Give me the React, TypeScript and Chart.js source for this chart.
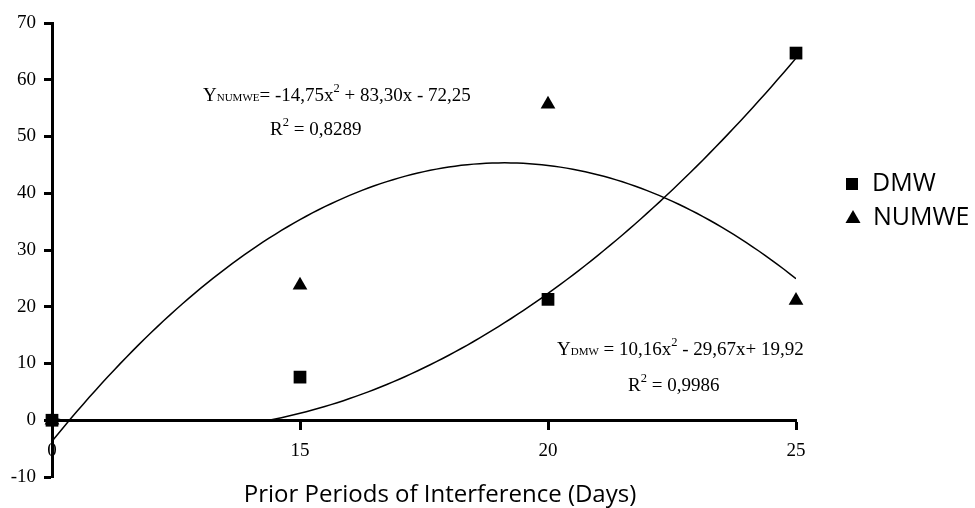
import React, { useEffect, useRef } from 'react';
import { Chart, registerables } from 'chart.js';

Chart.register(...registerables);

// ---- data ----
const xCategories = ['0', '15', '20', '25'];
const xIndex = [1, 2, 3, 4];
const dmwValues = [0, 7.6, 21.3, 64.7];
const numweValues = [0, 23.8, 55.7, 21.1];
// quadratic trendline coefficients as printed on the chart (a, b, c)
const dmwCoef = [10.16, -29.67, 19.92];
const numweCoef = [-14.75, 83.3, -72.25];
const yTicks = [-10, 0, 10, 20, 30, 40, 50, 60, 70];
const legendLabels = ['DMW', 'NUMWE'];
const xTitle = 'Prior Periods of Interference (Days)';
const numweEq = ['Y', 'NUMWE', '= -14,75x', '2', ' + 83,30x - 72,25'];
const numweR2 = ['R', '2', ' = 0,8289'];
const dmwEq = ['Y', 'DMW', ' = 10,16x', '2', ' - 29,67x+ 19,92'];
const dmwR2 = ['R', '2', ' = 0,9986'];

function trend(coef: number[], steps = 120) {
  const pts: { x: number; y: number }[] = [];
  const x0 = xIndex[0];
  const x1 = xIndex[xIndex.length - 1];
  for (let i = 0; i <= steps; i++) {
    const x = x0 + ((x1 - x0) * i) / steps;
    pts.push({ x, y: coef[0] * x * x + coef[1] * x + coef[2] });
  }
  return pts;
}

const SERIF = '"Liberation Serif", "Times New Roman", serif';
const SANS = '"Open Sans", "Noto Sans", sans-serif';

type Part = { t: string; size: number; dy?: number };

function drawParts(ctx: CanvasRenderingContext2D, x: number, y: number, parts: Part[]) {
  let cx = x;
  ctx.textBaseline = 'alphabetic';
  ctx.textAlign = 'left';
  for (const p of parts) {
    ctx.font = `${p.size}px ${SERIF}`;
    ctx.fillText(p.t, cx, y + (p.dy || 0));
    cx += ctx.measureText(p.t).width;
  }
}

const eqParts = (a: string[]): Part[] => [
  { t: a[0], size: 19 },
  { t: a[1], size: 11 },
  { t: a[2], size: 19 },
  { t: a[3], size: 12.5, dy: -9 },
  { t: a[4], size: 19 },
];
const r2Parts = (a: string[]): Part[] => [
  { t: a[0], size: 19 },
  { t: a[1], size: 12.5, dy: -9 },
  { t: a[2], size: 19 },
];

const overlayPlugin = {
  id: 'overlay',
  beforeDatasetDraw(chart: any, args: any) {
    // the DMW trendline is hidden below the x axis in the original
    if (args.index === 2) {
      const ctx = chart.ctx;
      const y0 = chart.scales.y.getPixelForValue(0);
      ctx.save();
      ctx.beginPath();
      ctx.rect(0, 0, chart.width, y0 + 1);
      ctx.clip();
    }
  },
  afterDatasetDraw(chart: any, args: any) {
    if (args.index === 2) chart.ctx.restore();
  },
  afterDraw(chart: any) {
    const ctx: CanvasRenderingContext2D = chart.ctx;
    ctx.save();
    ctx.fillStyle = '#000';
    // equations
    drawParts(ctx, 203, 101, eqParts(numweEq));
    drawParts(ctx, 270, 135, r2Parts(numweR2));
    drawParts(ctx, 557, 355, eqParts(dmwEq));
    drawParts(ctx, 628, 391, r2Parts(dmwR2));

    // legend
    ctx.fillRect(852 - 6, 184 - 6, 12, 12);
    ctx.beginPath();
    ctx.moveTo(853, 218 - 8);
    ctx.lineTo(853 + 7.5, 218 + 5);
    ctx.lineTo(853 - 7.5, 218 + 5);
    ctx.closePath();
    ctx.fill();
    ctx.font = `25px ${SANS}`;
    ctx.textBaseline = 'middle';
    ctx.textAlign = 'left';
    ctx.fillText(legendLabels[0], 872, 184);
    ctx.fillText(legendLabels[1], 873, 218);

    // x axis title
    ctx.font = `24px ${SANS}`;
    ctx.textAlign = 'center';
    ctx.textBaseline = 'alphabetic';
    ctx.fillText(xTitle, 440, 502);
    ctx.restore();
  },
};

export default function App() {
  const ref = useRef<HTMLCanvasElement>(null);
  useEffect(() => {
    if (!ref.current) return;
    const chart = new Chart(ref.current, {
      type: 'scatter',
      data: {
        datasets: [
          {
            label: legendLabels[0],
            data: xIndex.map((x, i) => ({ x, y: dmwValues[i] })),
            pointStyle: 'rect',
            pointRadius: 9,
            backgroundColor: '#000',
            borderColor: '#000',
            borderWidth: 0,
            showLine: false,
            clip: false,
          },
          {
            label: legendLabels[1],
            data: xIndex.map((x, i) => ({ x, y: numweValues[i] })),
            pointStyle: 'triangle',
            pointRadius: 8.5,
            backgroundColor: '#000',
            borderColor: '#000',
            borderWidth: 0,
            showLine: false,
            clip: false,
          },
          {
            label: 'DMW trend',
            data: trend(dmwCoef),
            showLine: true,
            pointRadius: 0,
            borderColor: '#000',
            borderWidth: 1.5,
            fill: false,
          },
          {
            label: 'NUMWE trend',
            data: trend(numweCoef),
            showLine: true,
            pointRadius: 0,
            borderColor: '#000',
            borderWidth: 1.5,
            fill: false,
          },
        ],
      },
      options: {
        animation: false,
        responsive: true,
        maintainAspectRatio: false,
        events: [],
        layout: { padding: { top: 23, right: 179, bottom: 31, left: 0 } },
        plugins: { legend: { display: false }, tooltip: { enabled: false } },
        scales: {
          x: {
            type: 'linear',
            position: { y: 0 } as any,
            min: xIndex[0],
            max: xIndex[xIndex.length - 1],
            afterBuildTicks: (s: any) => {
              s.ticks = xIndex.map((v) => ({ value: v }));
            },
            ticks: {
              callback: (v: any) => xCategories[xIndex.indexOf(Number(v))] ?? '',
              font: { family: SERIF, size: 19 },
              color: '#000',
              padding: 11,
              maxRotation: 0,
              autoSkip: false,
            },
            grid: { drawOnChartArea: false, drawTicks: true, tickLength: 8, tickWidth: 3, tickColor: '#000' },
            border: { display: true, color: '#000', width: 3 },
          },
          y: {
            type: 'linear',
            min: yTicks[0],
            max: yTicks[yTicks.length - 1],
            afterBuildTicks: (s: any) => {
              s.ticks = yTicks.map((v) => ({ value: v }));
            },
            afterFit: (s: any) => {
              s.width = 52;
            },
            ticks: {
              font: { family: SERIF, size: 19 },
              color: '#000',
              padding: 8,
            },
            grid: { drawOnChartArea: false, drawTicks: true, tickLength: 8, tickWidth: 3, tickColor: '#000' },
            border: { display: true, color: '#000', width: 3 },
          },
        },
      },
      plugins: [overlayPlugin],
    } as any);
    return () => chart.destroy();
  }, []);

  return (
    <div style={{ position: 'absolute', left: 0, top: 0, width: 975, height: 508, background: '#fff' }}>
      <canvas ref={ref} />
    </div>
  );
}
